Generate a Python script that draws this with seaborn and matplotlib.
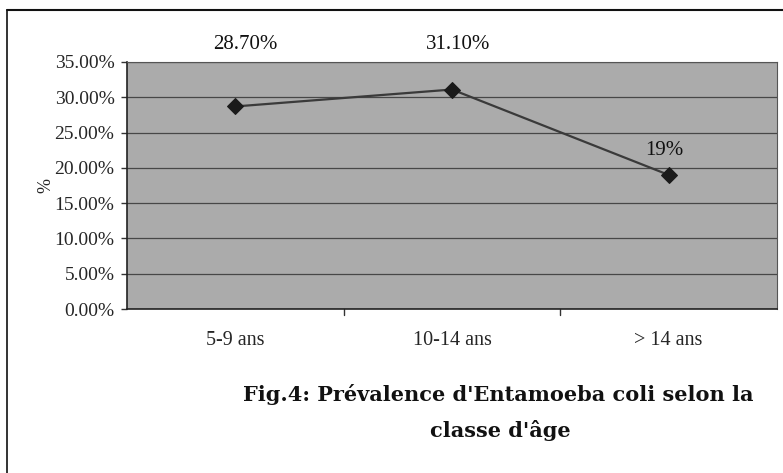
import pandas as pd
import numpy as np
import matplotlib
matplotlib.use("Agg")
import matplotlib.pyplot as plt
import seaborn as sns

categories = ['5-9 ans', '10-14 ans', '> 14 ans']
prevalence = [28.70, 31.10, 19.00]
point_labels = ['28.70%', '31.10%', '19%']
y_ticks = [0, 5, 10, 15, 20, 25, 30, 35]

df = pd.DataFrame({'classe': categories, 'prev': prevalence})

sns.set_style("white")
plt.rcParams['font.family'] = ['Liberation Serif', 'DejaVu Serif']

fig = plt.figure(figsize=(7.83, 4.73), dpi=100)
ax = fig.add_axes([127 / 783, 1 - 309 / 473, 650 / 783, 247 / 473])
ax.set_facecolor('#ababab')

sns.lineplot(data=df, x='classe', y='prev', sort=False, ax=ax, color='#3a3a3a',
             linewidth=1.6, marker='D', markersize=8.5, markerfacecolor='#1a1a1a',
             markeredgecolor='#1a1a1a')

ax.set_xlim(-0.5, 2.5)
ax.set_ylim(0, 35)
ax.set_yticks(y_ticks)
ax.set_yticklabels([f'{t:.2f}%' for t in y_ticks], fontsize=14)
ax.tick_params(axis='x', labelsize=14.5, pad=16, length=0)
ax.tick_params(axis='y', length=4, width=1, color='#333333', left=True, pad=5)
ax.grid(axis='y', color='#474747', linewidth=0.9)
ax.set_axisbelow(True)
ax.set_xlabel('')
ax.set_ylabel('%', fontsize=13, labelpad=0)

for s in ['left', 'bottom']:
    ax.spines[s].set_color('#222222')
    ax.spines[s].set_linewidth(1.2)
for s in ['top', 'right']:
    ax.spines[s].set_color('#555555')
    ax.spines[s].set_linewidth(0.8)

# small ticks between categories, as in the original
for xb in [0.5, 1.5]:
    ax.plot([xb, xb], [0, -0.8], color='#333333', linewidth=1, clip_on=False)

offsets = [10, 6, -4]
label_y = [37.5, 37.5, 22.4]
for i, (lab, yy) in enumerate(zip(point_labels, label_y)):
    ax.text(i + offsets[i] / 216, yy, lab, ha='center', va='center', fontsize=15,
            color='#111111', clip_on=False)

# outer frame of the chart
fig.add_artist(plt.Line2D([7 / 783, 783 / 783], [1 - 10 / 473, 1 - 10 / 473],
                          color='#111111', linewidth=1.5))
fig.add_artist(plt.Line2D([7 / 783, 7 / 783], [1 - 10 / 473, 0],
                          color='#111111', linewidth=1.2))

fig.text(498 / 783, 1 - 394 / 473, "Fig.4: Prévalence d'Entamoeba coli selon la",
         ha='center', va='center', fontsize=15, fontweight='bold', color='#111111',
         family='DejaVu Serif')
fig.text(500 / 783, 1 - 430 / 473, "classe d'âge",
         ha='center', va='center', fontsize=15, fontweight='bold', color='#111111',
         family='DejaVu Serif')

fig.savefig('out.png', dpi=100, facecolor='white')
